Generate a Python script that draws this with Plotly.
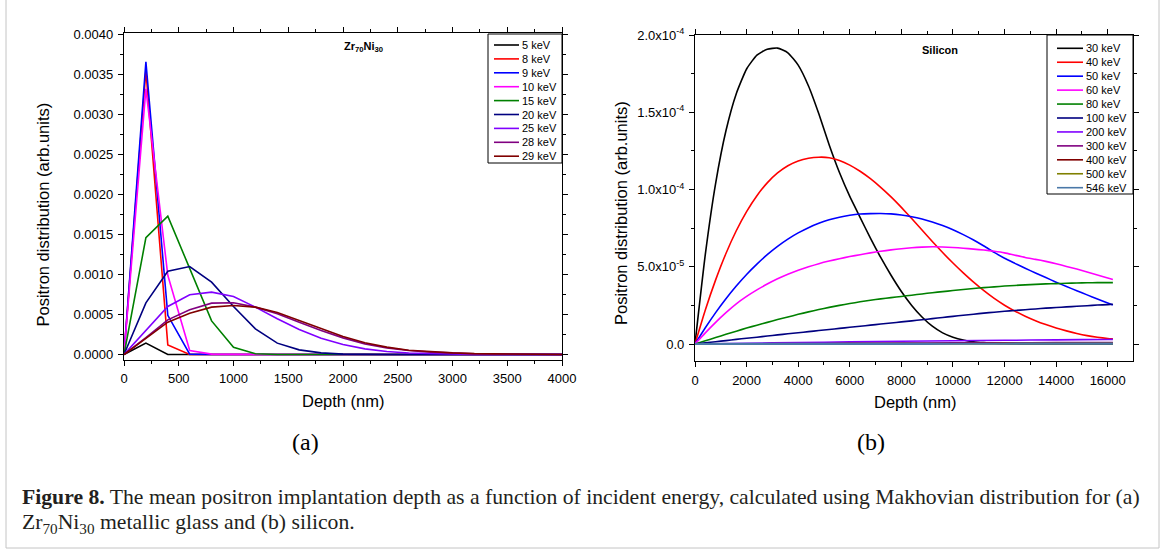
import plotly.graph_objects as go

W, H = 1165, 551
SANS = "Liberation Sans, Arial, sans-serif"
SERIF = "Liberation Serif, Times New Roman, serif"

# ---------------- (a) Zr70Ni30 metallic glass ----------------
depth_a = [0, 200, 400, 600, 800, 1000, 1200, 1400, 1600, 1800, 2000,
           2200, 2400, 2600, 2800, 3000, 3200, 3400, 3600, 3800, 4000]
zr_5kev = [0, 0.000142, 0, 0, 0, 0, 0, 0, 0, 0, 0,
           0, 0, 0, 0, 0, 0, 0, 0, 0, 0]
zr_8kev = [0, 0.00355, 0.00012, 0, 0, 0, 0, 0, 0, 0, 0,
           0, 0, 0, 0, 0, 0, 0, 0, 0, 0]
zr_9kev = [0, 0.00366, 0.00049, 0.000005, 0, 0, 0, 0, 0, 0, 0,
           0, 0, 0, 0, 0, 0, 0, 0, 0, 0]
zr_10kev = [0, 0.00332, 0.00099, 0.00005, 0.000005, 0, 0, 0, 0, 0, 0,
            0, 0, 0, 0, 0, 0, 0, 0, 0, 0]
zr_15kev = [0, 0.00146, 0.00173, 0.00108, 0.00042, 0.00009, 0.00001, 0, 0, 0, 0,
            0, 0, 0, 0, 0, 0, 0, 0, 0, 0]
zr_20kev = [0, 0.000646, 0.00104, 0.0011, 0.000904, 0.0006, 0.00032, 0.000142,
            0.000058, 0.00002, 0.000005, 0, 0, 0, 0, 0, 0, 0, 0, 0, 0]
zr_25kev = [0, 0.0003, 0.0006, 0.000746, 0.00078, 0.000725, 0.000592, 0.000446,
            0.000313, 0.000204, 0.000125, 0.00007, 0.000037, 0.000018, 0.00001,
            0.000005, 0.000002, 0.000001, 0, 0, 0]
zr_28kev = [0, 0.00021, 0.000433, 0.000558, 0.000642, 0.000646, 0.000592, 0.000508,
            0.000404, 0.0003, 0.000208, 0.000133, 0.000083, 0.00005, 0.00003,
            0.000017, 0.000009, 0.000005, 0.000002, 0.000001, 0]
zr_29kev = [0, 0.0002, 0.000404, 0.000517, 0.000592, 0.000612, 0.000592, 0.000525,
            0.000425, 0.00032, 0.000225, 0.000146, 0.000092, 0.000054, 0.000033,
            0.00002, 0.000011, 0.000006, 0.000003, 0.000001, 0]

labels_a = ["5 keV", "8 keV", "9 keV", "10 keV", "15 keV", "20 keV",
            "25 keV", "28 keV", "29 keV"]
series_a = [zr_5kev, zr_8kev, zr_9kev, zr_10kev, zr_15kev, zr_20kev,
            zr_25kev, zr_28kev, zr_29kev]
colors_a = ["#000000", "#ff0000", "#0000ff", "#ff00ff", "#008000", "#000080",
            "#8000ff", "#800080", "#800000"]

# ---------------- (b) Silicon (values in units of 1e-5) ----------------
depth_b = [0, 400, 800, 1200, 1600, 2000, 2400, 2800, 3200, 3600, 4000,
           4400, 4800, 5200, 5600, 6000, 6400, 6800, 7200, 7600, 8000,
           8400, 8800, 9200, 9600, 10000, 10400, 10800, 11200, 11600, 12000,
           12400, 12800, 13200, 13600, 14000, 14400, 14800, 15200, 15600, 16000,
           16200]
si_30kev = [0, 5.8, 10.4, 13.8, 16.2, 17.8, 18.7, 19.08, 19.15, 18.85, 18.05,
            16.7, 14.9, 12.9, 11.1, 9.55, 8.2, 6.85, 5.6, 4.45, 3.4,
            2.5, 1.75, 1.15, 0.72, 0.44, 0.26, 0.15, 0.09, 0.05, 0.03,
            0.015, 0.007, 0, 0, 0, 0, 0, 0, 0, 0,
            0]
si_40kev = [0, 2.2, 4.15, 5.86, 7.33, 8.57, 9.6, 10.43, 11.07, 11.54, 11.85,
            12.02, 12.09, 12.06, 11.88, 11.58, 11.18, 10.7, 10.14, 9.52, 8.84,
            8.12, 7.38, 6.64, 5.92, 5.24, 4.6, 4.0, 3.45, 2.95, 2.51,
            2.13, 1.8, 1.51, 1.26, 1.04, 0.85, 0.68, 0.54, 0.44, 0.36,
            0.33]
si_50kev = [0, 1.05, 2.03, 2.93, 3.75, 4.5, 5.17, 5.78, 6.32, 6.79, 7.19,
            7.53, 7.81, 8.04, 8.21, 8.33, 8.41, 8.44, 8.45, 8.42, 8.35,
            8.24, 8.09, 7.9, 7.67, 7.4, 7.08, 6.73, 6.34, 5.93, 5.55,
            5.22, 4.9, 4.6, 4.3, 4.0, 3.72, 3.45, 3.18, 2.92, 2.65,
            2.52]
si_60kev = [0, 0.72, 1.4, 2.03, 2.6, 3.08, 3.5, 3.88, 4.22, 4.52, 4.78,
            5.0, 5.2, 5.37, 5.52, 5.66, 5.78, 5.9, 6.0, 6.09, 6.17,
            6.23, 6.27, 6.29, 6.28, 6.25, 6.2, 6.14, 6.08, 6.0, 5.9,
            5.75, 5.6, 5.48, 5.35, 5.2, 5.02, 4.85, 4.66, 4.47, 4.27,
            4.18]
si_80kev = [0, 0.21, 0.42, 0.63, 0.83, 1.03, 1.22, 1.4, 1.58, 1.75, 1.92,
            2.08, 2.23, 2.37, 2.5, 2.62, 2.73, 2.83, 2.92, 3.0, 3.08,
            3.16, 3.24, 3.32, 3.39, 3.46, 3.53, 3.59, 3.65, 3.7, 3.75,
            3.79, 3.83, 3.86, 3.89, 3.91, 3.93, 3.95, 3.96, 3.97, 3.97,
            3.97]
si_100kev = [0, 0.08, 0.15, 0.22, 0.3, 0.37, 0.44, 0.52, 0.59, 0.66, 0.73,
             0.8, 0.87, 0.94, 1.01, 1.08, 1.15, 1.22, 1.29, 1.36, 1.43,
             1.5, 1.57, 1.64, 1.72, 1.79, 1.86, 1.93, 2.0, 2.06, 2.12,
             2.17, 2.22, 2.27, 2.32, 2.36, 2.4, 2.44, 2.48, 2.52, 2.55,
             2.57]

# high-energy profiles are nearly flat; a coarser depth grid is enough
depth_b_coarse = [0, 2000, 4000, 6000, 8000, 10000, 12000, 14000, 16000, 16200]
si_200kev = [0, 0.05, 0.095, 0.135, 0.175, 0.21, 0.24, 0.27, 0.295, 0.3]
si_300kev = [0, 0.015, 0.03, 0.045, 0.06, 0.07, 0.08, 0.09, 0.1, 0.1]
si_400kev = [0, 0.008, 0.016, 0.024, 0.03, 0.036, 0.042, 0.047, 0.05, 0.05]
si_500kev = [0, 0.004, 0.008, 0.012, 0.016, 0.02, 0.023, 0.026, 0.028, 0.028]
si_546kev = [0, 0.003, 0.006, 0.009, 0.012, 0.015, 0.018, 0.02, 0.022, 0.022]

labels_b = ["30 keV", "40 keV", "50 keV", "60 keV", "80 keV", "100 keV",
            "200 keV", "300 keV", "400 keV", "500 keV", "546 keV"]
series_b = [(depth_b, si_30kev), (depth_b, si_40kev), (depth_b, si_50kev),
            (depth_b, si_60kev), (depth_b, si_80kev), (depth_b, si_100kev),
            (depth_b_coarse, si_200kev), (depth_b_coarse, si_300kev),
            (depth_b_coarse, si_400kev), (depth_b_coarse, si_500kev),
            (depth_b_coarse, si_546kev)]
colors_b = ["#000000", "#ff0000", "#0000ff", "#ff00ff", "#008000", "#000080",
            "#8000ff", "#800080", "#800000", "#808000", "#4a78a8"]
widths_b = [1.6, 1.6, 1.6, 1.6, 1.6, 1.6, 1.6, 1.6, 1.6, 1.6, 2.2]

for xs, ys in series_b:
    assert len(xs) == len(ys)


def px(x):
    return x / W


def py(y):
    return 1 - y / H


fig = go.Figure()

for name, ys, col in zip(labels_a, series_a, colors_a):
    fig.add_trace(go.Scatter(x=depth_a, y=ys, mode="lines", name=name,
                             line=dict(color=col, width=1.6),
                             xaxis="x", yaxis="y", showlegend=False))

for name, (xs, ys), col, lw in zip(labels_b, series_b, colors_b, widths_b):
    fig.add_trace(go.Scatter(x=xs, y=[v * 1e-5 for v in ys], mode="lines",
                             name=name,
                             line=dict(color=col, width=lw, shape="spline",
                                       smoothing=0.5),
                             xaxis="x2", yaxis="y2", showlegend=False))

axis_common = dict(showline=True, linecolor="black", linewidth=1.2,
                   mirror="ticks", ticks="outside", ticklen=5, tickwidth=1,
                   tickcolor="black", showgrid=False, zeroline=False,
                   automargin=False,
                   tickfont=dict(family=SANS, size=13, color="black"),
                   ticklabelstandoff=2)

fig.update_layout(
    width=W, height=H, autosize=False,
    margin=dict(l=0, r=0, t=0, b=0, pad=0),
    paper_bgcolor="white", plot_bgcolor="white",
    xaxis=dict(domain=[px(124), px(562)], range=[0, 4000], anchor="y",
               tick0=0, dtick=500, tickformat="d",
               minor=dict(ticks="outside", ticklen=3, tick0=0, dtick=250,
                          tickcolor="black"),
               **axis_common),
    yaxis=dict(domain=[py(359.5), py(33.3)], range=[-0.0000625, 0.004015],
               anchor="x", tick0=0, dtick=0.0005, tickformat=".4f",
               minor=dict(ticks="outside", ticklen=3, tick0=0, dtick=0.00025,
                          tickcolor="black"),
               **axis_common),
    xaxis2=dict(domain=[px(695), px(1133)], range=[0, 16980], anchor="y2",
                tick0=0, dtick=2000, tickformat="d",
                minor=dict(ticks="outside", ticklen=3, tick0=0, dtick=1000,
                           tickcolor="black"),
                **axis_common),
    yaxis2=dict(domain=[py(361), py(35)], range=[-1.1e-5, 2.0e-4],
                anchor="x2", tickmode="array",
                tickvals=[0, 5e-5, 1e-4, 1.5e-4, 2e-4],
                ticktext=["0.0", "5.0x10<sup>-5</sup>", "1.0x10<sup>-4</sup>",
                          "1.5x10<sup>-4</sup>", "2.0x10<sup>-4</sup>"],
                minor=dict(ticks="outside", ticklen=3, tick0=0, dtick=2.5e-5,
                           tickcolor="black"),
                **axis_common),
)


def add_text(x, y, text, size, family=SANS, anchor="center", angle=0,
             color="black"):
    fig.add_annotation(x=px(x), y=py(y), xref="paper", yref="paper",
                       text=text, showarrow=False, xanchor=anchor,
                       yanchor="middle", textangle=angle,
                       font=dict(family=family, size=size, color=color))


def add_legend(names, colors, box, line_x, text_x, y_first, step):
    x0, x1, y_top, y_bot = box
    fig.add_shape(type="rect", xref="paper", yref="paper",
                  x0=px(x0), x1=px(x1), y0=py(y_bot), y1=py(y_top),
                  line=dict(color="black", width=1), fillcolor="white",
                  layer="above")
    for i, (n, c) in enumerate(zip(names, colors)):
        yy = y_first + i * step
        fig.add_shape(type="line", xref="paper", yref="paper",
                      x0=px(line_x[0]), x1=px(line_x[1]),
                      y0=py(yy), y1=py(yy), layer="above",
                      line=dict(color=c, width=1.6))
        add_text(text_x, yy, n, 11, anchor="left")


add_legend(labels_a, colors_a, (488, 562, 34, 163), (494, 519), 520, 45, 13.9)
add_legend(labels_b, colors_b, (1047, 1133, 35, 194), (1057, 1083), 1084,
           48.3, 13.94)

# panel titles
add_text(363, 47, "<b>Zr<sub>70</sub>Ni<sub>30</sub></b>", 11)
add_text(940, 50, "<b>Silicon</b>", 11)

# axis titles
add_text(42.5, 215, "Positron distribution (arb.units)", 16.5, angle=-90)
add_text(621, 213, "Positron distribution (arb.units)", 16.5, angle=-90)
add_text(343, 401, "Depth (nm)", 16.5)
add_text(915, 402, "Depth (nm)", 16.5)

# sub-figure labels
add_text(305, 442, "(a)", 24, family=SERIF)
add_text(871, 442, "(b)", 24, family=SERIF)

# caption
add_text(20, 497,
         "<b>Figure 8.</b> The mean positron implantation depth as a function "
         "of incident energy, calculated using Makhovian distribution for (a)",
         21.7, family=SERIF, anchor="left", color="#231f20")
add_text(20, 523,
         "Zr<sub>70</sub>Ni<sub>30</sub> metallic glass and (b) silicon.",
         21.7, family=SERIF, anchor="left", color="#231f20")

# page frame
fig.add_shape(type="rect", xref="paper", yref="paper",
              x0=px(6), x1=px(1159), y0=py(548), y1=py(-5),
              line=dict(color="#c4c4c4", width=1), layer="below")

fig.write_html("out.html")
